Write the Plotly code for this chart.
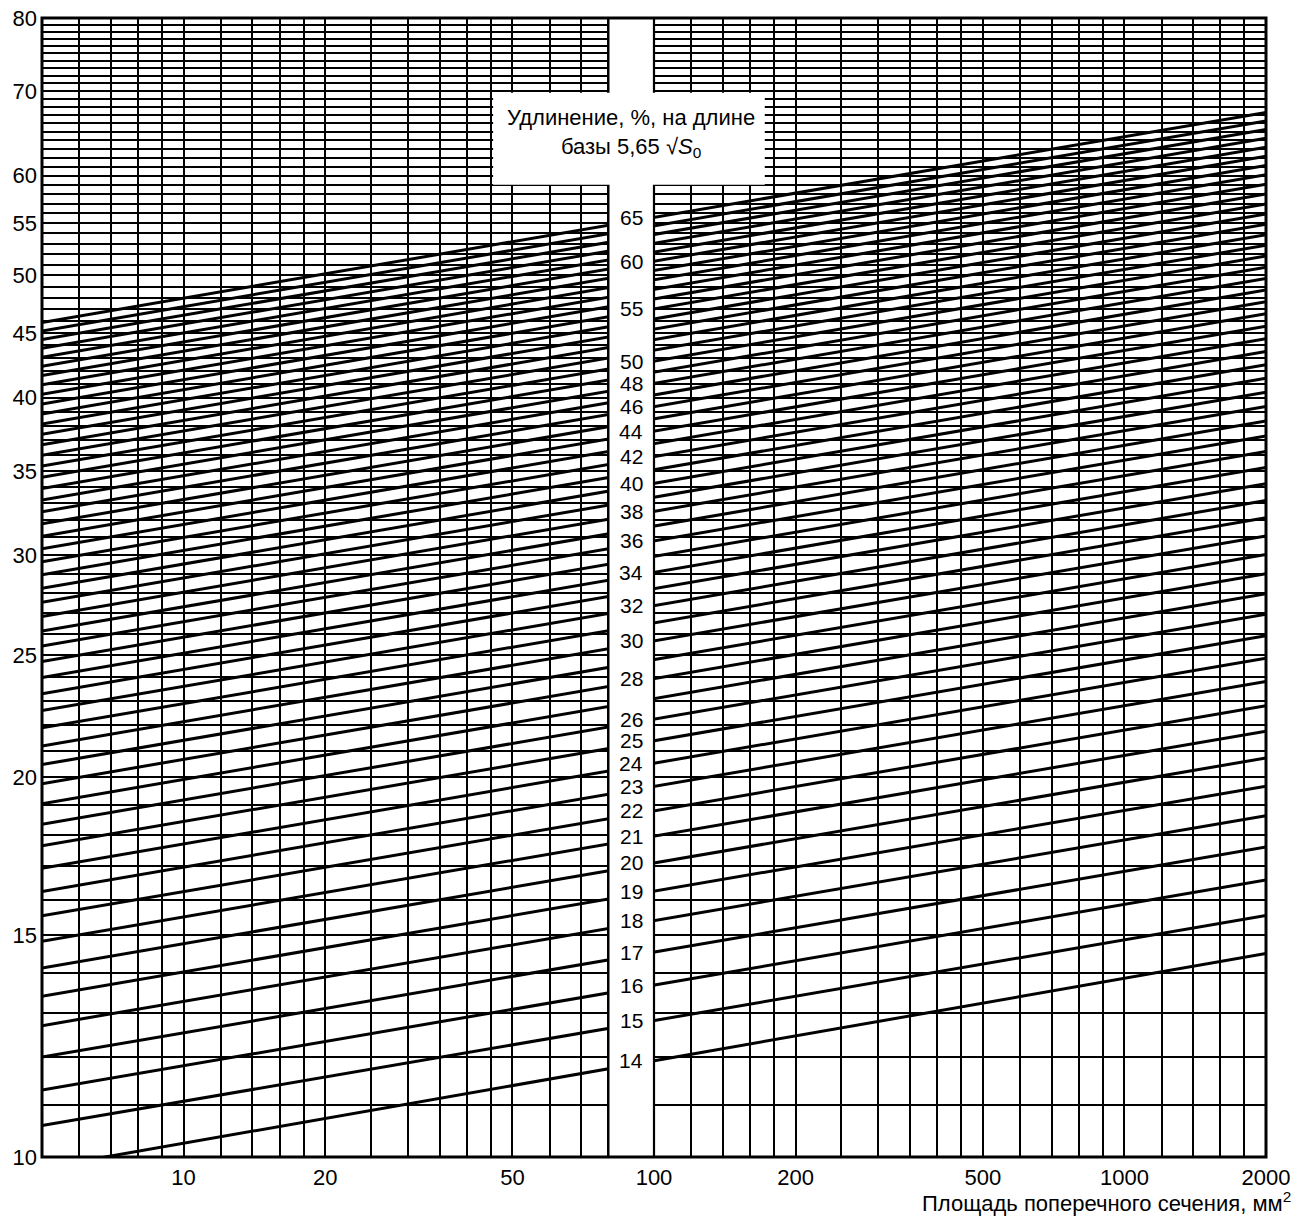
import math
import plotly.graph_objects as go

# ---- data ----
# elongation on gauge length 5.65*sqrt(S0), one line per value
elong_565 = list(range(14, 66))
# value of each line at the left edge (S0 = 5 mm2) and at the right edge (S0 = 2000 mm2)
area_left = 5
area_right = 2000
y_at_left = [9.80, 10.59, 11.30, 12.00, 12.71, 13.41, 14.12, 14.83, 15.53, 16.24,
             16.94, 17.65, 18.36, 19.06, 19.77, 20.47, 21.18, 21.89, 22.59, 23.30,
             24.00, 24.71, 25.42, 26.12, 26.83, 27.53, 28.24, 28.95, 29.65, 30.36,
             31.06, 31.77, 32.48, 33.18, 33.89, 34.59, 35.30, 36.01, 36.71, 37.42,
             38.12, 38.83, 39.54, 40.24, 40.95, 41.65, 42.36, 43.07, 43.77, 44.48,
             45.18, 45.89]
y_at_right = [14.50, 15.54, 16.58, 17.61, 18.65, 19.68, 20.72, 21.76, 22.79, 23.83,
              24.86, 25.90, 26.94, 27.97, 29.01, 30.04, 31.08, 32.12, 33.15, 34.19,
              35.22, 36.26, 37.30, 38.33, 39.37, 40.40, 41.44, 42.48, 43.51, 44.55,
              45.58, 46.62, 47.66, 48.69, 49.73, 50.76, 51.80, 52.84, 53.87, 54.91,
              55.94, 56.98, 58.02, 59.05, 60.09, 61.12, 62.16, 63.20, 64.23, 65.27,
              66.30, 67.34]
# labelled lines (written in the central column)
label_values = [14, 15, 16, 17, 18, 19, 20, 21, 22, 23, 24, 25, 26, 28, 30, 32, 34,
                36, 38, 40, 42, 44, 46, 48, 50, 55, 60, 65]

# axes
x_ticks_major = [10, 20, 50, 100, 200, 500, 1000, 2000]
x_grid_minor = [5, 6, 7, 8, 9, 12, 14, 16, 18, 25, 30, 35, 40, 45, 60, 70, 80,
                120, 140, 160, 180, 250, 300, 350, 400, 450, 600, 700, 800, 900,
                1200, 1400, 1600, 1800]
y_ticks_major = [10, 15, 20, 25, 30, 35, 40, 45, 50, 55, 60, 70, 80]
y_grid_minor = [v for v in range(11, 80) if v not in y_ticks_major]
gap_from, gap_to = 80, 100
box_x = (45.5, 172)
box_y = (59.0, 69.8)
box_text_y = 64.8

FONT = "Liberation Sans, Arial, sans-serif"
FS = 22
FS_LABEL = 21

xs, ys = [], []
for yl, yr in zip(y_at_left, y_at_right):
    xs += [area_left, area_right, None]
    ys += [yl, yr, None]

fig = go.Figure()
fig.add_trace(go.Scatter(x=xs, y=ys, mode="lines",
                         line=dict(color="black", width=3),
                         hoverinfo="skip", showlegend=False))

shapes = [
    dict(type="rect", xref="x", yref="paper", x0=gap_from, x1=gap_to, y0=0, y1=1,
         fillcolor="white", line=dict(width=0), layer="above"),
    dict(type="line", xref="x", yref="paper", x0=gap_from, x1=gap_from, y0=0, y1=1,
         line=dict(color="black", width=2.2), layer="above"),
    dict(type="line", xref="x", yref="paper", x0=gap_to, x1=gap_to, y0=0, y1=1,
         line=dict(color="black", width=2.2), layer="above"),
    dict(type="rect", xref="x", yref="y", x0=box_x[0], x1=box_x[1], y0=box_y[0], y1=box_y[1],
         fillcolor="white", line=dict(width=0), layer="above"),
    dict(type="rect", xref="paper", yref="paper", x0=0, x1=1, y0=0, y1=1,
         fillcolor="rgba(0,0,0,0)", line=dict(color="black", width=3), layer="above"),
]

annotations = []
t = math.log10(gap_to / area_left) / math.log10(area_right / area_left)
x_mid = (math.log10(gap_from) + math.log10(gap_to)) / 2
for a, yl, yr in zip(elong_565, y_at_left, y_at_right):
    if a in label_values:
        y100 = math.log10(yl) + t * (math.log10(yr) - math.log10(yl))
        annotations.append(dict(x=x_mid, y=y100, xref="x", yref="y", text=str(a),
                                showarrow=False, borderpad=0,
                                font=dict(family=FONT, size=FS_LABEL, color="black"),
                                xanchor="center", yanchor="middle"))

annotations.append(dict(x=x_mid, y=math.log10(box_text_y), xref="x", yref="y",
                        text="Удлинение, %, на длине<br>базы 5,65 √<i>S</i><sub>0</sub>",
                        showarrow=False, align="center",
                        font=dict(family=FONT, size=FS, color="black"),
                        xanchor="center", yanchor="middle"))
annotations.append(dict(x=1, y=0, xref="paper", yref="paper",
                        text="Площадь поперечного сечения, мм<sup>2</sup>",
                        showarrow=False, xanchor="right", yanchor="top",
                        xshift=27, yshift=-29,
                        font=dict(family=FONT, size=FS, color="black")))

fig.update_layout(
    width=1294, height=1218,
    margin=dict(l=42, r=28, t=18, b=61),
    paper_bgcolor="white", plot_bgcolor="white",
    showlegend=False,
    shapes=shapes, annotations=annotations,
    font=dict(family=FONT, size=FS, color="black"),
    xaxis=dict(type="log", range=[math.log10(area_left), math.log10(area_right)],
               automargin=False,
               tickmode="array", tickvals=x_ticks_major,
               ticktext=[str(v) for v in x_ticks_major],
               showgrid=True, gridcolor="black", gridwidth=2.4,
               ticks="", ticklabelstandoff=5, showline=False, zeroline=False,
               tickfont=dict(family=FONT, size=FS, color="black"),
               minor=dict(tickmode="array", tickvals=x_grid_minor, showgrid=True,
                          gridcolor="black", gridwidth=1.7, ticks="")),
    yaxis=dict(type="log", range=[1, math.log10(80)],
               automargin=False,
               tickmode="array", tickvals=y_ticks_major,
               ticktext=[str(v) for v in y_ticks_major],
               showgrid=True, gridcolor="black", gridwidth=1.7,
               ticks="", ticklabelstandoff=4, showline=False, zeroline=False,
               tickfont=dict(family=FONT, size=FS, color="black"),
               minor=dict(tickmode="array", tickvals=y_grid_minor, showgrid=True,
                          gridcolor="black", gridwidth=1.7, ticks="")),
)

fig.write_html("out.html")
